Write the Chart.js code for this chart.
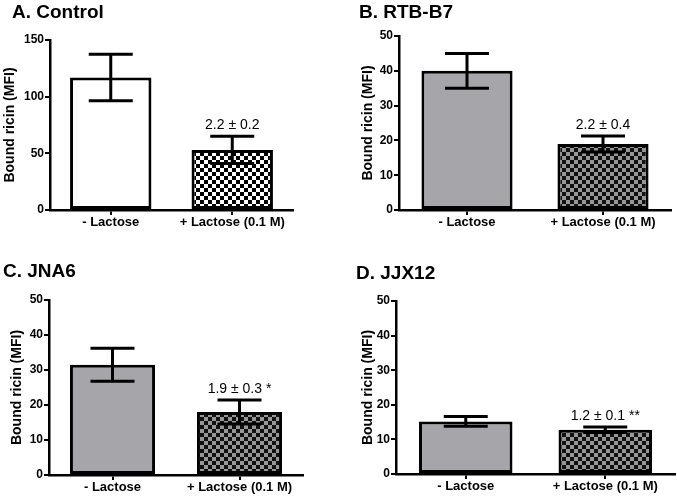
<!DOCTYPE html>
<html>
<head>
<meta charset="utf-8">
<script src="https://cdn.jsdelivr.net/npm/chart.js@4.4.1/dist/chart.umd.min.js"></script>
<style>
  body { margin: 0; background: #fff; width: 677px; height: 497px; position: relative; overflow: hidden;
         font-family: 'Liberation Sans', Arial, sans-serif; }
  canvas { position: absolute; }
  .ttl { position: absolute; font-weight: bold; font-size: 19px; line-height: 19px; white-space: nowrap; color: #000; }
</style>
</head>
<body>
<script>
// data
const categories = ['- Lactose', '+ Lactose (0.1 M)'];
const panelTitles = ['A. Control', 'B. RTB-B7', 'C. JNA6', 'D. JJX12'];
const controlMeans = [117, 53];
const controlErrors = [20.5, 12];
const rtbMeans = [40, 19];
const rtbErrors = [5, 2.3];
const jna6Means = [31.5, 18];
const jna6Errors = [4.7, 3.4];
const jjx12Means = [15.2, 12.8];
const jjx12Errors = [1.4, 0.8];
const yMax = [150, 50, 50, 50];
const yStep = [50, 10, 10, 10];
const notes = ['2.2 \u00b1 0.2', '2.2 \u00b1 0.4', '1.9 \u00b1 0.3 *', '1.2 \u00b1 0.1 **'];

const means = [controlMeans, rtbMeans, jna6Means, jjx12Means];
const errors = [controlErrors, rtbErrors, jna6Errors, jjx12Errors];

// placement of each panel on the page
const boxes = [
  { left: 0,   top: 0,   padL: 0,  yW: 50, padT: 40, padR: 45, xH: 38, tx: 12,  ty: 2 },
  { left: 338, top: 0,   padL: 20, yW: 41, padT: 36, padR: 5,  xH: 38, tx: 359, ty: 2 },
  { left: 0,   top: 249, padL: 7,  yW: 42, padT: 51, padR: 35, xH: 22, tx: 3,   ty: 261 },
  { left: 338, top: 249, padL: 20, yW: 38, padT: 52, padR: 1,  xH: 23, tx: 356, ty: 263 }
];

const FONT = "'Liberation Sans', Arial, sans-serif";

function checker(light, dark) {
  const c = document.createElement('canvas');
  c.width = 8; c.height = 8;
  const g = c.getContext('2d');
  g.fillStyle = light; g.fillRect(0, 0, 8, 8);
  g.fillStyle = dark; g.fillRect(0, 0, 4, 4); g.fillRect(4, 4, 4, 4);
  return c;
}

const errorBars = {
  id: 'errorBars',
  afterDatasetsDraw(chart, args, opts) {
    const { ctx } = chart;
    const y = chart.scales.y;
    const meta = chart.getDatasetMeta(0);
    const vals = chart.data.datasets[0].data;
    ctx.save();
    ctx.strokeStyle = '#000';
    ctx.lineWidth = 3;
    meta.data.forEach((bar, i) => {
      const hi = y.getPixelForValue(vals[i] + opts.errors[i]);
      const lo = y.getPixelForValue(vals[i] - opts.errors[i]);
      ctx.beginPath();
      ctx.moveTo(bar.x, hi); ctx.lineTo(bar.x, lo);
      ctx.moveTo(bar.x - 22, hi); ctx.lineTo(bar.x + 22, hi);
      ctx.moveTo(bar.x - 22, lo); ctx.lineTo(bar.x + 22, lo);
      ctx.stroke();
    });
    // value note over the lactose bar
    const b = meta.data[1];
    const top = y.getPixelForValue(vals[1] + opts.errors[1]);
    ctx.fillStyle = '#000';
    ctx.font = '14px ' + FONT;
    ctx.textAlign = 'center';
    ctx.textBaseline = 'alphabetic';
    ctx.fillText(opts.note, b.x, top - 7);
    ctx.restore();
  }
};

boxes.forEach((p, k) => {
  const cv = document.createElement('canvas');
  cv.width = 338; cv.height = 248;
  cv.style.left = p.left + 'px'; cv.style.top = p.top + 'px';
  document.body.appendChild(cv);

  const t = document.createElement('div');
  t.className = 'ttl';
  t.style.left = p.tx + 'px'; t.style.top = p.ty + 'px';
  t.textContent = panelTitles[k];
  document.body.appendChild(t);

  const ctx = cv.getContext('2d');
  const pattern = k === 0
    ? ctx.createPattern(checker('#ffffff', '#000000'), 'repeat')
    : ctx.createPattern(checker('#979797', '#111111'), 'repeat');
  const plain = k === 0 ? '#ffffff' : '#a6a6aa';

  new Chart(cv, {
    type: 'bar',
    data: {
      labels: categories,
      datasets: [{
        data: means[k],
        backgroundColor: [plain, pattern],
        borderColor: '#000',
        borderWidth: 3,
        borderSkipped: false,
        barPercentage: 0.67,
        categoryPercentage: 1
      }]
    },
    options: {
      responsive: false,
      animation: false,
      devicePixelRatio: 1,
      layout: { padding: { left: p.padL, top: p.padT, right: p.padR, bottom: 0 } },
      plugins: {
        legend: { display: false },
        tooltip: { enabled: false },
        errorBars: { errors: errors[k], note: notes[k] }
      },
      scales: {
        x: {
          offset: true,
          grid: { offset: false, drawOnChartArea: false, drawTicks: true, tickLength: 5, color: '#000', lineWidth: 2 },
          border: { color: '#000', width: 2.5 },
          ticks: { color: '#000', padding: 0, maxRotation: 0, autoSkip: false,
                   font: { family: FONT, size: 13, weight: 'bold' } },
          afterFit: s => { s.height = p.xH; }
        },
        y: {
          min: 0,
          max: yMax[k],
          grid: { drawOnChartArea: false, drawTicks: true, tickLength: 5, color: '#000', lineWidth: 2 },
          border: { color: '#000', width: 2.5 },
          ticks: { stepSize: yStep[k], color: '#000', padding: 1,
                   font: { family: FONT, size: 12, weight: 'bold' } },
          title: { display: true, text: 'Bound ricin (MFI)', color: '#000', padding: { top: 2, bottom: 0 },
                   font: { family: FONT, size: 14, weight: 'bold' } },
          afterFit: s => { s.width = p.yW; }
        }
      }
    },
    plugins: [errorBars]
  });
});
</script>
</body>
</html>
